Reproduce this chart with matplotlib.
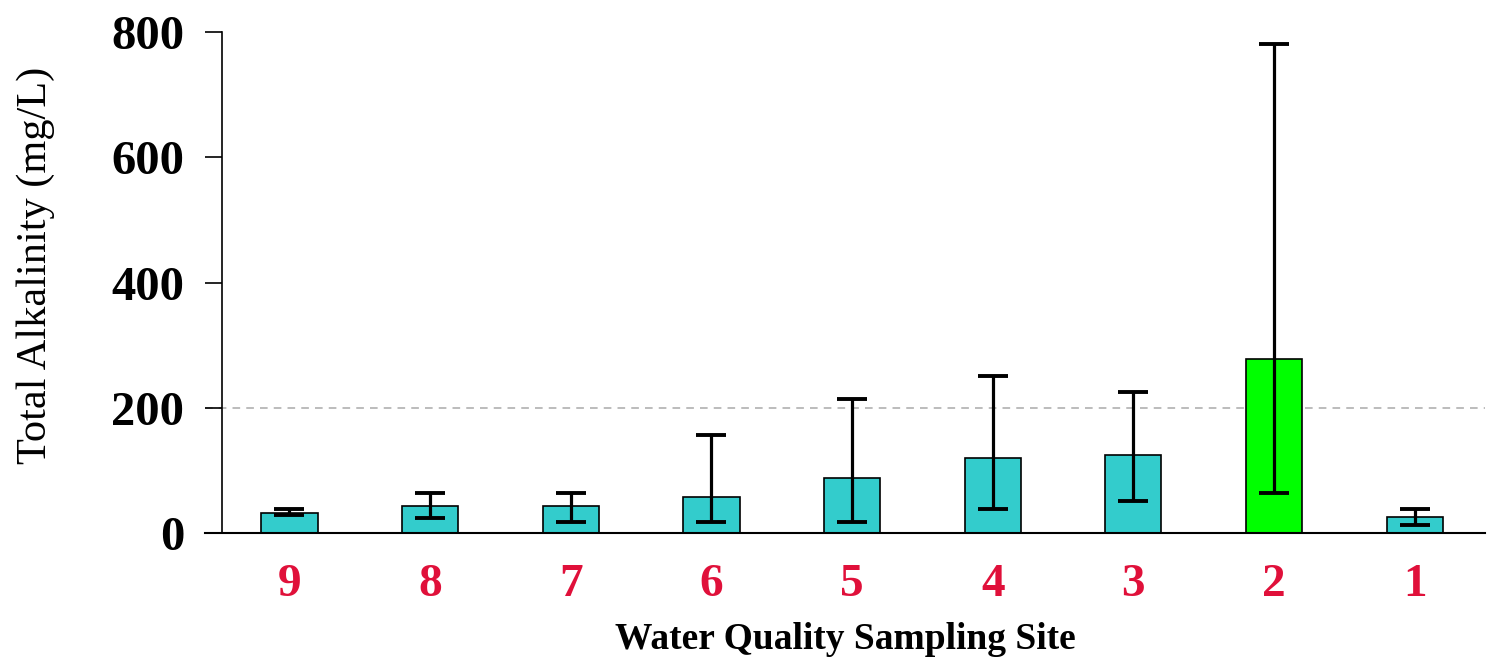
import numpy as np
import matplotlib.pyplot as plt

# data sites (urutan kiri ke kanan)
sites = ["9", "8", "7", "6", "5", "4", "3", "2", "1"]
alkalinity = [32, 43, 43, 57, 88, 119, 125, 278, 25]
err_low = [28, 24, 18, 18, 18, 38, 51, 64, 13]
err_high = [38, 64, 64, 156, 214, 251, 225, 781, 38]
bar_colors = ["#33cccc"] * 7 + ["#00ff00"] + ["#33cccc"]
threshold = 200

plt.rcParams['font.family'] = ['Liberation Serif', 'DejaVu Serif']

fig = plt.figure(figsize=(14.95, 6.58), dpi=100)
ax = fig.add_axes([205 / 1495, 1 - 533 / 658, 1280 / 1495, 501 / 658])

x = np.arange(len(sites))
yerr = [np.array(alkalinity) - np.array(err_low), np.array(err_high) - np.array(alkalinity)]
ax.bar(x, alkalinity, width=0.4, color=bar_colors, edgecolor="black", linewidth=1.2, zorder=2)
ax.errorbar(x, alkalinity, yerr=yerr, fmt="none", ecolor="black", elinewidth=2.3,
            capsize=11, capthick=2.8, zorder=3)

# garis batas 200 mg/L
ax.axhline(threshold, color="#aaaaaa", linestyle=(0, (5, 4)), linewidth=1.1, zorder=1)

ax.set_ylim(0, 800)
ax.set_xlim(-0.6, 8.5)
ax.spines['left'].set_position(('data', -0.48))
ax.spines['top'].set_visible(False)
ax.spines['right'].set_visible(False)
ax.spines['left'].set_linewidth(1.2)
ax.spines['bottom'].set_linewidth(1.5)

ax.set_yticks([0, 200, 400, 600, 800])
ax.tick_params(axis='y', direction='out', length=12, width=1.2, labelsize=35, pad=15)
for lbl in ax.get_yticklabels():
    lbl.set_fontweight('bold')

ax.set_xticks(x)
ax.set_xticklabels(sites, fontsize=34, fontweight='bold', color="#e0103a")
ax.tick_params(axis='x', length=0, pad=22)

ax.set_xlabel("Water Quality Sampling Site", fontsize=27, fontweight='bold', labelpad=12)
ax.set_ylabel("Total Alkalinity (mg/L)", fontsize=30.5)
ax.yaxis.set_label_coords(-0.117, 0.535)

plt.savefig("out.png", dpi=100)
